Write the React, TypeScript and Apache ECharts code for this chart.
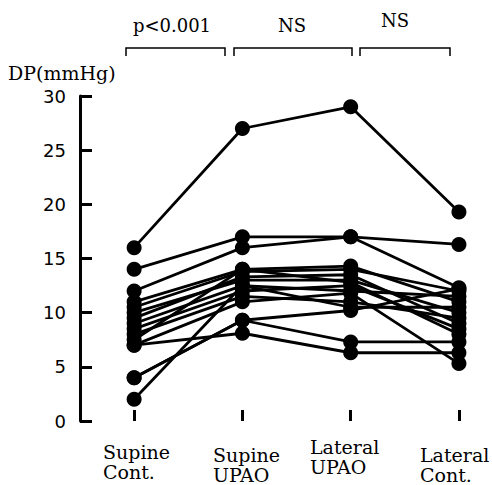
import React, { useEffect, useRef } from "react";
import * as echarts from "echarts";

const categories = ["Supine\nCont.", "Supine\nUPAO", "Lateral\nUPAO", "Lateral\nCont."];
const yTicks = [0, 5, 10, 15, 20, 25, 30];

// one value per subject at each condition
const supineCont = [16, 14, 12, 11, 10.5, 10, 9.5, 9, 8.5, 8, 7, 7.5, 4, 4, 7, 2];
const supineUPAO = [27, 17, 16, 14, 13.8, 13, 13.3, 12.5, 12, 11.5, 11, 14, 9.3, 9.3, 8.1, 12.5];
const lateralUPAO = [29, 17, 17, 14.3, 14, 13, 13.5, 12, 12.5, 11, 11.8, 12.8, 10.2, 7.3, 6.3, 10.5];
const lateralCont = [19.3, 16.3, 12.3, 11, 12, 10, 9, 11.5, 8.5, 9.5, 5.3, 8, 12.2, 7.3, 6.3, 10.5];

const comparisons = [
  { label: "p<0.001", x0: 126, x1: 225, tx: 172, ty: 25 },
  { label: "NS", x0: 234, x1: 352, tx: 292, ty: 25 },
  { label: "NS", x0: 360, x1: 450, tx: 395, ty: 20 },
];

const catLabelPos = [
  { x: 103, y: 442 },
  { x: 213, y: 445 },
  { x: 310, y: 437 },
  { x: 420, y: 445 },
];

export default function App() {
  const ref = useRef<HTMLDivElement>(null);
  useEffect(() => {
    if (!ref.current) return;
    const chart = echarts.init(ref.current, null, { renderer: "svg" });
    const series = supineCont.map((_, i) => ({
      type: "line",
      data: [
        [0, supineCont[i]],
        [1, supineUPAO[i]],
        [2, lateralUPAO[i]],
        [3, lateralCont[i]],
      ],
      symbol: "circle",
      symbolSize: 15,
      lineStyle: { color: "#000", width: 2.8 },
      itemStyle: { color: "#000" },
      silent: true,
    }));
    const graphics: any[] = [];
    comparisons.forEach((c) => {
      graphics.push({
        type: "polyline",
        shape: { points: [[c.x0, 56], [c.x0, 48], [c.x1, 48], [c.x1, 56]] },
        style: { stroke: "#000", lineWidth: 1.5, fill: null },
      });
      graphics.push({
        type: "text",
        x: c.tx,
        y: c.ty,
        style: {
          text: c.label,
          fontSize: 18,
          fontFamily: "DejaVu Serif",
          fill: "#000",
          align: "center",
          verticalAlign: "middle",
        },
      });
    });
    graphics.push({
      type: "text",
      x: 8,
      y: 73,
      style: {
        text: "DP(mmHg)",
        fontSize: 19,
        fontFamily: "DejaVu Serif",
        fill: "#000",
        align: "left",
        verticalAlign: "middle",
      },
    });
    categories.forEach((c, i) => {
      graphics.push({
        type: "text",
        x: catLabelPos[i].x,
        y: catLabelPos[i].y,
        style: {
          text: c,
          fontSize: 19,
          lineHeight: 20,
          fontFamily: "DejaVu Serif",
          fill: "#000",
          align: "left",
          verticalAlign: "top",
        },
      });
    });
    chart.setOption({
      animation: false,
      backgroundColor: "#fff",
      grid: { left: 80, right: 6, top: 96, bottom: 64, containLabel: false },
      xAxis: {
        type: "value",
        min: -0.5,
        max: 3.25,
        axisLine: { show: false, onZero: false },
        splitLine: { show: false },
        axisLabel: { show: false },
        axisTick: {
          show: true,
          inside: true,
          length: 11,
          lineStyle: { color: "#000", width: 3 },
          customValues: [0, 1, 2, 3],
        },
      },
      yAxis: {
        type: "value",
        min: 0,
        max: 30,
        interval: 5,
        axisLine: { show: true, onZero: false, lineStyle: { color: "#000", width: 3 } },
        axisTick: {
          show: true,
          inside: true,
          length: 12,
          lineStyle: { color: "#000", width: 3 },
        },
        splitLine: { show: false },
        axisLabel: {
          color: "#000",
          fontSize: 18,
          fontFamily: "DejaVu Sans",
          margin: 14,
          formatter: (v: number) => (yTicks.includes(v) ? String(v) : ""),
        },
      },
      series,
      graphic: graphics,
    });
    return () => chart.dispose();
  }, []);
  return (
    <div
      ref={ref}
      style={{ position: "fixed", left: 0, top: 0, width: 492, height: 485, background: "#fff" }}
    />
  );
}
